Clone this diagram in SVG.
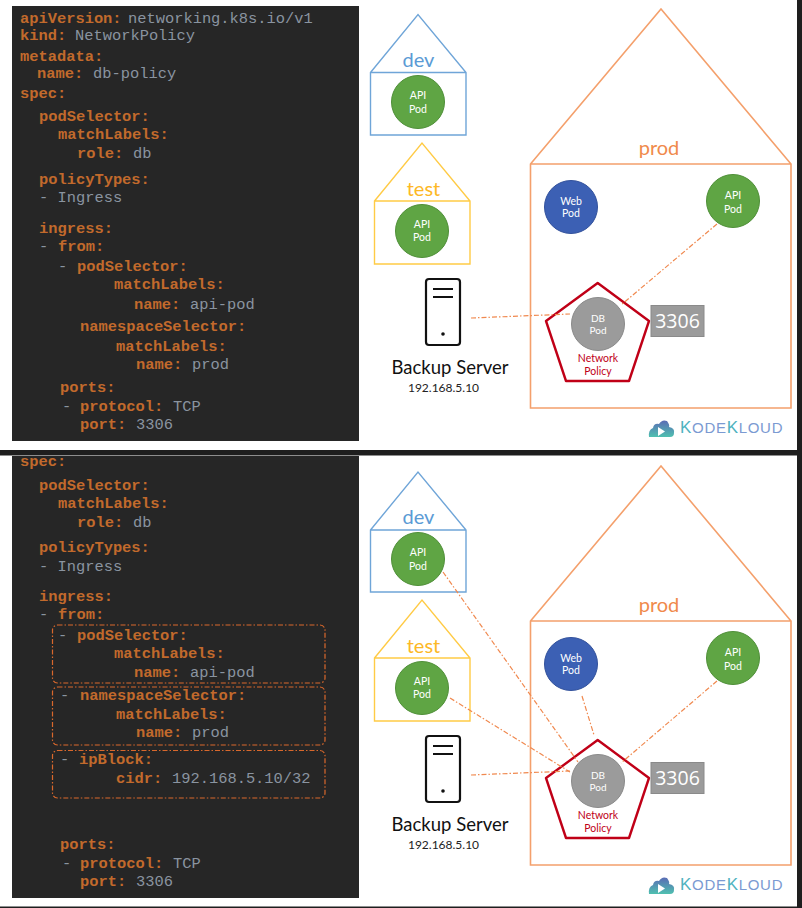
<svg xmlns="http://www.w3.org/2000/svg" width="802" height="908" viewBox="0 0 802 908">
<style>
.code{font-family:"Liberation Mono","Courier New",monospace;font-size:15.4px}
.k{fill:#c26a2c;font-weight:bold}
.v{fill:#8a94a0}
.sans{font-family:Lato,"Open Sans",sans-serif;text-anchor:middle}
.pod{font-size:10.5px;fill:#fff}
.db{font-size:10px;fill:#fff}
.npt{font-size:10.500px;fill:#c00017}
.ns{font-size:20px}
.port{font-family:"Open Sans",sans-serif;font-size:19.500px;fill:#fff}
.srvt{font-size:18.500px;fill:#111}
.ip{font-size:12px;fill:#222}
.green{fill:#5fa544;stroke:#4f8f38;stroke-width:1}
.blue{fill:#3c60b4;stroke:#33529c;stroke-width:1}
.gray{fill:#9b9b9b;stroke:#8a8a8a;stroke-width:1}
.conn{fill:none;stroke:#f0894f;stroke-width:1.200;stroke-dasharray:5 2 1.5 2}
.dbox{fill:none;stroke:#d9682c;stroke-width:1.200;stroke-dasharray:5 2 1.5 2}
.dev{fill:none;stroke:#6fa5d8;stroke-width:1.400}
.test{fill:none;stroke:#ffcb45;stroke-width:1.400}
.prod{fill:none;stroke:#f4a06c;stroke-width:1.600}
.np{fill:#fff;stroke:#c00017;stroke-width:2.400;stroke-linejoin:round}
.srv{fill:none;stroke:#111;stroke-width:2.200}
.logo{font-family:"Liberation Sans",sans-serif;font-size:15px;letter-spacing:0.700px;fill:#7b9ad2}
.logok{fill:#4fb3bf;font-size:17px}
</style>
<defs>
<clipPath id="c2"><rect x="12" y="456" width="347" height="442"/></clipPath>
<linearGradient id="cg" x1="0" x2="0" y1="0" y2="1"><stop offset="0" stop-color="#5a6bb5"/><stop offset="1" stop-color="#4fc0b0"/></linearGradient>
<g id="cloud"><path d="M649 437Q648 430 653 428Q654 423 659 424Q662 419 667 421Q670 425 669 427Q675 428 674 433Q674 437 670 437Z" fill="url(#cg)"/><path d="M658 427L665 431.500L658 436Z" fill="#fff"/></g>
</defs>
<rect width="802" height="908" fill="#fff"/>
<rect x="0" y="450" width="797" height="5.500" fill="#1e1e1e"/>
<rect x="797" y="0" width="5" height="908" fill="#1e1e1e"/>
<rect x="0" y="906.500" width="802" height="1.500" fill="#1e1e1e"/>

<g id="code-top">
<rect x="12" y="6" width="347" height="435" fill="#262626"/>
<g class="code">
<text x="20" y="23"><tspan class="k">apiVersion:</tspan><tspan class="v" x="128">networking.k8s.io/v1</tspan></text>
<text x="20" y="40"><tspan class="k">kind:</tspan><tspan class="v" x="75">NetworkPolicy</tspan></text>
<text x="20" y="61" class="k">metadata:</text>
<text x="37" y="78"><tspan class="k">name:</tspan><tspan class="v" x="93">db-policy</tspan></text>
<text x="20" y="98" class="k">spec:</text>
<text x="39" y="121" class="k">podSelector:</text>
<text x="58" y="139" class="k">matchLabels:</text>
<text x="77" y="158"><tspan class="k">role:</tspan><tspan class="v" x="133">db</tspan></text>
<text x="39" y="184" class="k">policyTypes:</text>
<text x="39" y="202" class="v">- Ingress</text>
<text x="39" y="233" class="k">ingress:</text>
<text x="39" y="251"><tspan class="v">-</tspan><tspan class="k" x="58">from:</tspan></text>
<text x="58" y="271"><tspan class="v">-</tspan><tspan class="k" x="77">podSelector:</tspan></text>
<text x="114" y="289" class="k">matchLabels:</text>
<text x="134" y="309"><tspan class="k">name:</tspan><tspan class="v" x="190">api-pod</tspan></text>
<text x="80" y="331" class="k">namespaceSelector:</text>
<text x="116" y="351" class="k">matchLabels:</text>
<text x="136" y="369"><tspan class="k">name:</tspan><tspan class="v" x="192">prod</tspan></text>
<text x="60" y="392" class="k">ports:</text>
<text x="62" y="411"><tspan class="v">-</tspan><tspan class="k" x="80">protocol:</tspan><tspan class="v" x="173">TCP</tspan></text>
<text x="80" y="429"><tspan class="k">port:</tspan><tspan class="v" x="136">3306</tspan></text>
</g>
</g>

<g id="code-bottom">
<rect x="12" y="456" width="347" height="442" fill="#262626"/>
<g class="code" clip-path="url(#c2)">
<text x="20" y="466" class="k">spec:</text>
<text x="39" y="490" class="k">podSelector:</text>
<text x="58" y="508" class="k">matchLabels:</text>
<text x="77" y="527"><tspan class="k">role:</tspan><tspan class="v" x="133">db</tspan></text>
<text x="39" y="552" class="k">policyTypes:</text>
<text x="39" y="571" class="v">- Ingress</text>
<text x="39" y="601" class="k">ingress:</text>
<text x="39" y="619"><tspan class="v">-</tspan><tspan class="k" x="58">from:</tspan></text>
<text x="58" y="640"><tspan class="v">-</tspan><tspan class="k" x="77">podSelector:</tspan></text>
<text x="114" y="658" class="k">matchLabels:</text>
<text x="134" y="677"><tspan class="k">name:</tspan><tspan class="v" x="190">api-pod</tspan></text>
<text x="60" y="700"><tspan class="v">-</tspan><tspan class="k" x="80">namespaceSelector:</tspan></text>
<text x="116" y="719" class="k">matchLabels:</text>
<text x="136" y="737"><tspan class="k">name:</tspan><tspan class="v" x="192">prod</tspan></text>
<text x="60" y="764"><tspan class="v">-</tspan><tspan class="k" x="79">ipBlock:</tspan></text>
<text x="116" y="783"><tspan class="k">cidr:</tspan><tspan class="v" x="172">192.168.5.10/32</tspan></text>
<text x="60" y="849" class="k">ports:</text>
<text x="62" y="868"><tspan class="v">-</tspan><tspan class="k" x="80">protocol:</tspan><tspan class="v" x="173">TCP</tspan></text>
<text x="80" y="886"><tspan class="k">port:</tspan><tspan class="v" x="136">3306</tspan></text>
</g>
<rect class="dbox" x="52.500" y="625" width="272.500" height="58" rx="5"/>
<rect class="dbox" x="52.500" y="687" width="272.500" height="58" rx="5"/>
<rect class="dbox" x="52.500" y="750.500" width="272.500" height="47.500" rx="5"/>
</g>

<g id="ns-dev-1">
<path class="dev" d="M370.500 72.500L418 14.500L466 72.500V135H370.500Z M370.500 72.500H466"/>
<text class="sans ns" x="418.500" y="67" fill="#5b9bd5">dev</text>
</g>
<g id="pod-api-dev-1">
<circle class="green" cx="418" cy="102" r="26.500"/>
<text class="sans pod" x="418" y="99">API</text><text class="sans pod" x="418" y="113">Pod</text>
</g>
<g id="ns-test-1">
<path class="test" d="M374.500 201L422 143L470 201V264H374.500Z M374.500 201H470"/>
<text class="sans ns" x="423.500" y="196" fill="#fdb825">test</text>
</g>
<g id="pod-api-test-1">
<circle class="green" cx="422" cy="231" r="26.500"/>
<text class="sans pod" x="422" y="228">API</text><text class="sans pod" x="422" y="241">Pod</text>
</g>
<g id="ns-prod-1">
<path class="prod" d="M530.500 164L661 9L791 164V408H530.500Z M530.500 164H791"/>
<text class="sans ns" x="659" y="155" fill="#f08a4b">prod</text>
</g>
<g id="pod-web-1">
<circle class="blue" cx="571" cy="207" r="26.500"/>
<text class="sans pod" x="571" y="205">Web</text><text class="sans pod" x="571" y="217">Pod</text>
</g>
<g id="pod-api-prod-1">
<circle class="green" cx="733" cy="201" r="26.500"/>
<text class="sans pod" x="733" y="199">API</text><text class="sans pod" x="733" y="213">Pod</text>
</g>
<g id="np-1">
<path class="np" d="M597.700 283L649 321L629 381H566L546 321Z"/>
<circle class="gray" cx="598" cy="324" r="26.500"/>
<text class="sans db" x="598" y="322">DB</text><text class="sans db" x="598" y="334">Pod</text>
<text class="sans npt" x="598" y="362">Network</text><text class="sans npt" x="598" y="375">Policy</text>
</g>
<g id="port-1">
<rect x="651" y="305.500" width="53" height="31" fill="#9b9b9b" stroke="#8a8a8a"/>
<text class="sans port" x="677.500" y="328">3306</text>
</g>
<g id="server-1">
<rect class="srv" x="426" y="279" width="34" height="66" rx="3"/>
<path class="srv" d="M433 289H453M433 297H453"/>
<circle cx="443" cy="334" r="1.800" fill="#111"/>
<text class="sans srvt" x="450" y="374">Backup Server</text>
<text class="sans ip" x="443.500" y="392">192.168.5.10</text>
</g>
<g id="logo-1">
<use href="#cloud"/>
<text class="logo" x="680" y="433"><tspan class="logok">K</tspan>ODE<tspan class="logok">K</tspan>LOUD</text>
</g>

<g id="ns-dev-2">
<path class="dev" d="M370.500 530L418 472L466 530V592H370.500Z M370.500 530H466"/>
<text class="sans ns" x="418.500" y="524" fill="#5b9bd5">dev</text>
</g>
<g id="pod-api-dev-2">
<circle class="green" cx="418" cy="559" r="26.500"/>
<text class="sans pod" x="418" y="556">API</text><text class="sans pod" x="418" y="570">Pod</text>
</g>
<g id="ns-test-2">
<path class="test" d="M374.500 658L422 600L470 658V721H374.500Z M374.500 658H470"/>
<text class="sans ns" x="423.500" y="653" fill="#fdb825">test</text>
</g>
<g id="pod-api-test-2">
<circle class="green" cx="422" cy="688" r="26.500"/>
<text class="sans pod" x="422" y="685">API</text><text class="sans pod" x="422" y="698">Pod</text>
</g>
<g id="ns-prod-2">
<path class="prod" d="M530.500 621L661 466L791 621V865H530.500Z M530.500 621H791"/>
<text class="sans ns" x="659" y="612" fill="#f08a4b">prod</text>
</g>
<g id="pod-web-2">
<circle class="blue" cx="571" cy="664" r="26.500"/>
<text class="sans pod" x="571" y="662">Web</text><text class="sans pod" x="571" y="674">Pod</text>
</g>
<g id="pod-api-prod-2">
<circle class="green" cx="733" cy="658" r="26.500"/>
<text class="sans pod" x="733" y="656">API</text><text class="sans pod" x="733" y="670">Pod</text>
</g>
<g id="np-2">
<path class="np" d="M597.700 740L649 778L629 838H566L546 778Z"/>
<circle class="gray" cx="598" cy="781" r="26.500"/>
<text class="sans db" x="598" y="779">DB</text><text class="sans db" x="598" y="791">Pod</text>
<text class="sans npt" x="598" y="819">Network</text><text class="sans npt" x="598" y="832">Policy</text>
</g>
<g id="port-2">
<rect x="651" y="762.500" width="53" height="31" fill="#9b9b9b" stroke="#8a8a8a"/>
<text class="sans port" x="677.500" y="785">3306</text>
</g>
<g id="server-2">
<rect class="srv" x="426" y="736" width="34" height="66" rx="3"/>
<path class="srv" d="M433 746H453M433 754H453"/>
<circle cx="443" cy="791" r="1.800" fill="#111"/>
<text class="sans srvt" x="450" y="831">Backup Server</text>
<text class="sans ip" x="443.500" y="849">192.168.5.10</text>
</g>
<g id="logo-2">
<use href="#cloud" y="457"/>
<text class="logo" x="680" y="890"><tspan class="logok">K</tspan>ODE<tspan class="logok">K</tspan>LOUD</text>
</g>

<g id="connectors">
<line class="conn" x1="471" y1="318" x2="570" y2="314"/>
<line class="conn" x1="717" y1="224" x2="621" y2="305"/>
<line class="conn" x1="443" y1="572" x2="578" y2="762"/>
<line class="conn" x1="450" y1="698" x2="570" y2="772"/>
<line class="conn" x1="471" y1="775" x2="570" y2="771"/>
<line class="conn" x1="582" y1="696" x2="594" y2="735"/>
<line class="conn" x1="717" y1="681" x2="621" y2="763"/>
</g>
</svg>
